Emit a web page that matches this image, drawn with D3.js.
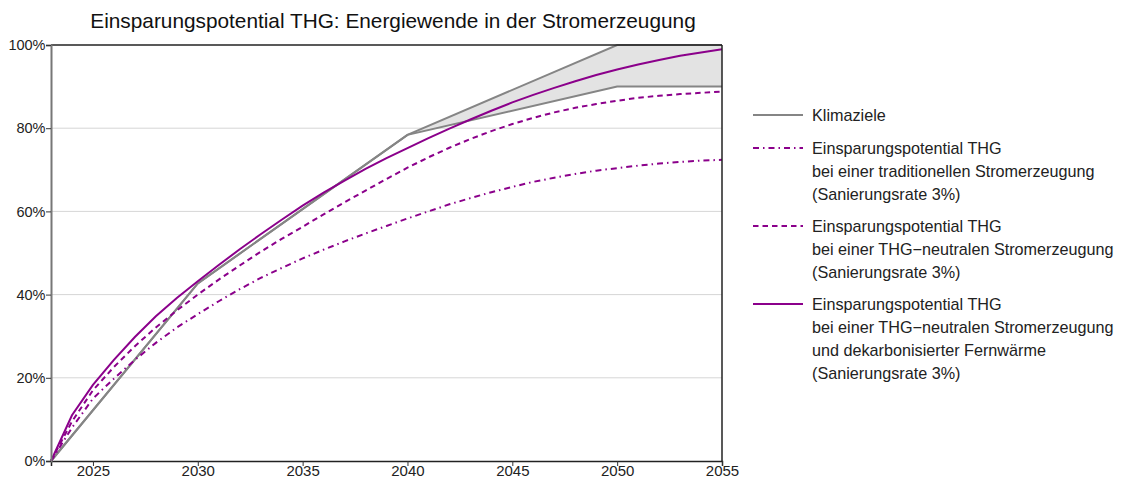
<!DOCTYPE html>
<html><head><meta charset="utf-8">
<script src="https://cdn.jsdelivr.net/npm/d3@7"></script>
<style>body{margin:0;background:#fff;font-family:"Liberation Sans",Arial,sans-serif}</style>
</head><body><svg id="c" width="1121" height="479"></svg>
<script>
const years = d3.range(2023, 2056);
const traditionell = [0,8.0,15.0,19.8,24.3,28.4,32.1,35.3,38.4,41.3,44.0,46.4,48.7,50.8,52.8,54.7,56.5,58.3,60.0,61.7,63.2,64.6,65.9,67.1,68.1,69.0,69.8,70.4,71.0,71.5,71.9,72.2,72.4];
const neutral = [0,9.5,17.0,22.6,27.6,32.1,36.2,40.0,43.6,47.0,50.3,53.4,56.3,59.3,62.2,65.0,67.8,70.5,73.0,75.3,77.4,79.3,81.0,82.5,83.8,84.9,85.8,86.6,87.3,87.8,88.2,88.5,88.8];
const neutralFernwaerme = [0,11.0,18.3,24.3,29.8,34.8,39.2,43.2,47.1,50.9,54.5,58.0,61.4,64.5,67.4,70.2,72.8,75.2,77.6,79.9,82.1,84.2,86.2,88.0,89.7,91.3,92.8,94.1,95.3,96.4,97.4,98.2,99.0];
const zielJahre = [2023, 2030, 2040, 2050, 2055];
const zielOben = [0, 42.7, 78.4, 100, 100];
const zielUnten = [0, 42.7, 78.4, 90, 90];
const xTicks = [2025, 2030, 2035, 2040, 2045, 2050, 2055];
const yTicks = [0, 20, 40, 60, 80, 100];
const title = "Einsparungspotential THG: Energiewende in der Stromerzeugung";
const legendLabels = [
  ["Klimaziele"],
  ["Einsparungspotential THG", "bei einer traditionellen Stromerzeugung", "(Sanierungsrate 3%)"],
  ["Einsparungspotential THG", "bei einer THG\u2212neutralen Stromerzeugung", "(Sanierungsrate 3%)"],
  ["Einsparungspotential THG", "bei einer THG\u2212neutralen Stromerzeugung", "und dekarbonisierter Fernwärme", "(Sanierungsrate 3%)"]
];

const purple = "#8b008b", grey = "#858585";
const svg = d3.select("#c");
const L = 51, R = 722, T = 45, B = 461;
const x = d3.scaleLinear().domain([2023, 2055]).range([L, R]);
const y = d3.scaleLinear().domain([0, 100]).range([B, T]);

svg.append("text").attr("x", 393).attr("y", 28).attr("text-anchor", "middle")
  .attr("font-size", 20.8).attr("fill", "#111").text(title);

// grid
svg.append("g").selectAll("line").data(yTicks.filter(d => d > 0 && d < 100)).join("line")
  .attr("x1", L).attr("x2", R).attr("y1", d => y(d)).attr("y2", d => y(d))
  .attr("stroke", "#d6d6d6").attr("stroke-width", 1);

// band
const zielData = zielJahre.map((j, i) => ({j, o: zielOben[i], u: zielUnten[i]}));
svg.append("path").datum(zielData.filter(d => d.j >= 2040))
  .attr("d", d3.area().x(d => x(d.j)).y0(d => y(d.u)).y1(d => y(d.o)))
  .attr("fill", "#e3e3e3");

const line = d3.line().x((d, i) => x(years[i])).y(d => y(d));
svg.append("path").datum(zielData).attr("d", d3.line().x(d => x(d.j)).y(d => y(d.o))).attr("fill", "none").attr("stroke", grey).attr("stroke-width", 2);
svg.append("path").datum(zielData).attr("d", d3.line().x(d => x(d.j)).y(d => y(d.u))).attr("fill", "none").attr("stroke", grey).attr("stroke-width", 2);

const series = [
  {v: traditionell, dash: "6,4,1.5,4"},
  {v: neutral, dash: "5.5,4"},
  {v: neutralFernwaerme, dash: null}
];
series.forEach(s => {
  svg.append("path").datum(s.v).attr("d", line).attr("fill", "none")
    .attr("stroke", purple).attr("stroke-width", 2).attr("stroke-dasharray", s.dash);
});

// frame
svg.append("line").attr("x1", L).attr("x2", R).attr("y1", T).attr("y2", T).attr("stroke", "#222").attr("stroke-width", 1.5);
svg.append("line").attr("x1", R).attr("x2", R).attr("y1", T).attr("y2", B).attr("stroke", "#222").attr("stroke-width", 1.5);

// axes
const xa = svg.append("g").attr("transform", `translate(0,${B})`)
  .call(d3.axisBottom(x).tickValues(xTicks).tickFormat(d3.format("d")).tickSizeOuter(0).tickSize(5));
xa.select(".domain").attr("stroke", "#222").attr("stroke-width", 1.5);
xa.selectAll(".tick line").attr("stroke", "#333");
xa.selectAll("text").attr("font-size", 15).attr("fill", "#222").attr("y", 4.5).attr("dy", "0.71em").attr("font-family", "Liberation Sans, Arial, sans-serif");

const ya = svg.append("g").attr("transform", `translate(${L},0)`)
  .call(d3.axisLeft(y).tickValues(yTicks).tickFormat(d => d + "%").tickSizeOuter(0).tickSize(5));
ya.select(".domain").attr("stroke", "#777").attr("stroke-width", 2);
ya.selectAll(".tick line").attr("stroke", "#333");
ya.selectAll("text").attr("font-size", 14.5).attr("fill", "#222").attr("x", -5.5).attr("font-family", "Liberation Sans, Arial, sans-serif");

// legend
const legY = [115, 148, 226, 304];
const legStyles = [{c: grey, dash: null}, {c: purple, dash: "6,4,1.5,4"}, {c: purple, dash: "5.5,4"}, {c: purple, dash: null}];
legendLabels.forEach((lines, i) => {
  const g = svg.append("g");
  g.append("line").attr("x1", 753).attr("x2", 803).attr("y1", legY[i]).attr("y2", legY[i])
    .attr("stroke", legStyles[i].c).attr("stroke-width", 2).attr("stroke-dasharray", legStyles[i].dash);
  lines.forEach((t, k) => {
    g.append("text").attr("x", 812).attr("y", legY[i] + k * 23.2).attr("dy", "0.35em")
      .attr("font-size", 16.2).attr("fill", "#222").text(t);
  });
});
</script></body></html>
